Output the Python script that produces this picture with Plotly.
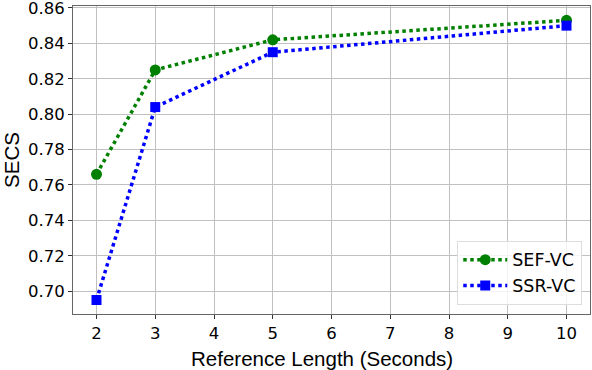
import plotly.graph_objects as go

lengths = [2, 3, 5, 10]
sef_vc = [0.766, 0.825, 0.842, 0.853]
ssr_vc = [0.695, 0.804, 0.835, 0.850]
x_ticks = [2, 3, 4, 5, 6, 7, 8, 9, 10]
y_ticks = [0.70, 0.72, 0.74, 0.76, 0.78, 0.80, 0.82, 0.84, 0.86]

tick_font = "DejaVu Sans"
title_font = "Liberation Sans, Arial"
fig = go.Figure()
fig.add_trace(go.Scatter(x=lengths, y=sef_vc, name="SEF-VC", mode="lines+markers",
                         line=dict(color="green", width=3.5, dash="dot"),
                         marker=dict(symbol="circle", size=11, color="green")))
fig.add_trace(go.Scatter(x=lengths, y=ssr_vc, name="SSR-VC", mode="lines+markers",
                         line=dict(color="blue", width=3.5, dash="dot"),
                         marker=dict(symbol="square", size=10, color="blue")))

fig.update_layout(
    width=592, height=370,
    margin=dict(l=73, r=2, t=6, b=56),
    plot_bgcolor="white", paper_bgcolor="white",
    font=dict(family=tick_font, size=16.5, color="black"),
    showlegend=True,
    legend=dict(x=0.985, y=0.03, xanchor="right", yanchor="bottom",
                bgcolor="rgba(255,255,255,0.8)", bordercolor="#dddddd", borderwidth=1,
                font=dict(family=tick_font, size=17.5), itemwidth=44, tracegroupgap=2),
    annotations=[dict(text="Reference Length (Seconds)", xref="paper", yref="paper",
                      x=0.4816, y=-0.143, xanchor="center", yanchor="middle",
                      showarrow=False, font=dict(family=title_font, size=20.5))],
)
fig.update_xaxes(range=[1.6, 10.4], tickvals=x_ticks, showgrid=True, gridcolor="#c0c0c0",
                 gridwidth=1, showline=True, linecolor="#666666", linewidth=1, mirror=True,
                 ticks="outside", ticklen=4, tickcolor="#333333", zeroline=False,
                 automargin=False, ticklabeloverflow="allow")
fig.update_yaxes(range=[0.6871, 0.8611], tickvals=y_ticks, tickformat=".2f", showgrid=True,
                 gridcolor="#c0c0c0", gridwidth=1, showline=True, linecolor="#666666",
                 linewidth=1, mirror=True, ticks="outside", ticklen=4, tickcolor="#333333",
                 zeroline=False, automargin=False, ticklabeloverflow="allow",
                 title=dict(text="SECS", font=dict(family=title_font, size=20.5), standoff=10))

fig.write_html("out.html", config={"displayModeBar": False},
               post_script="document.body.style.margin='0px';document.body.style.overflow='hidden';")
